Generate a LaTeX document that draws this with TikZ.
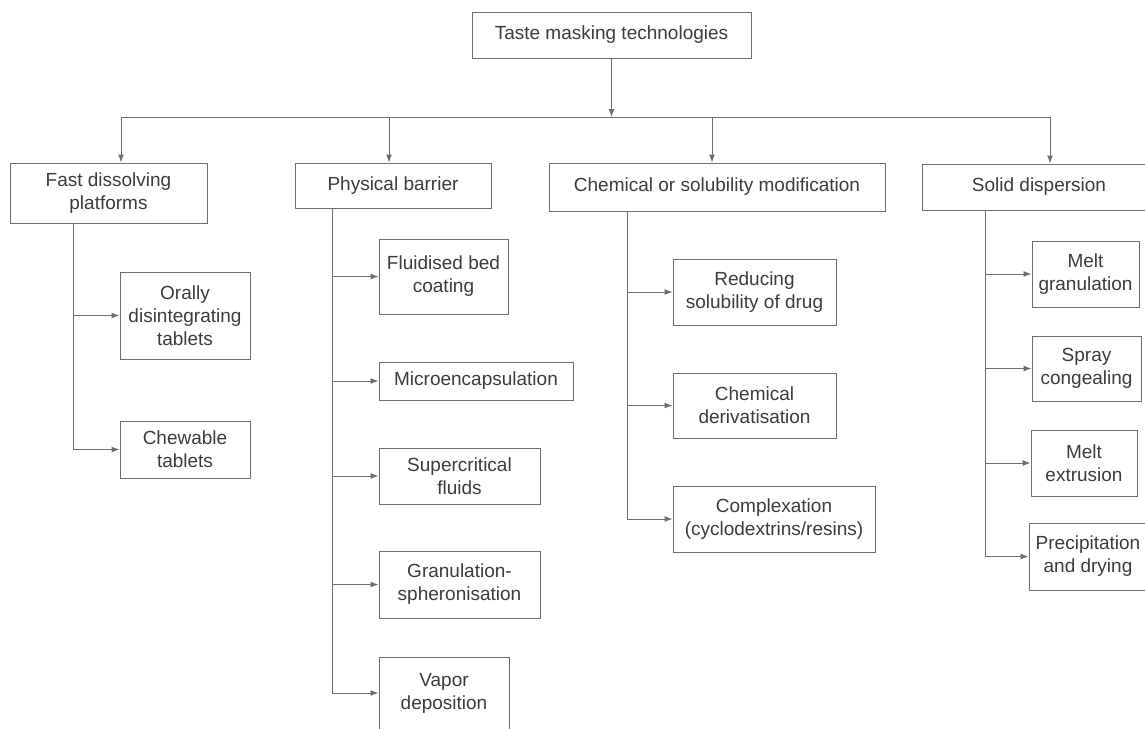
\documentclass[tikz,border=0pt]{standalone}
\usepackage{fontspec}
\setmainfont{Liberation Sans}
\usepackage{tikz}
\usetikzlibrary{arrows.meta}

\definecolor{linegray}{HTML}{6E6E6E}
\definecolor{textgray}{HTML}{3C3C3C}

\tikzset{
    box/.style={draw=linegray, line width=0.5pt, text=textgray, align=center,
        inner sep=0pt, font=\fontsize{9.5}{11.5}\selectfont},
    elbow/.style={to path={|- (\tikztotarget)}}
}

\begin{document}
\begin{tikzpicture}[x=0.5pt, y=-0.5pt, >={Latex[length=4pt,width=3pt]},
        line width=0.5pt, draw=linegray]
    \fill [white] (0,0) rectangle (1145,728);
    \useasboundingbox (0,0) rectangle (1145,728);
    \clip (0,0) rectangle (1145,728);

    % Nodes {root, four groups, their methods}
    \node [box, minimum width=139.5pt, minimum height=23pt]  (root)    at (611.5,35)  {Taste masking technologies};

    \node [box, minimum width=98.5pt, minimum height=30pt]   (fast)    at (108.5,193) {Fast dissolving\\platforms};
    \node [box, minimum width=98pt, minimum height=22.5pt]   (phys)    at (393,185.5) {Physical barrier};
    \node [box, minimum width=168pt, minimum height=24pt]    (chem)    at (717,187)   {Chemical or solubility modification};
    \node [box, minimum width=117pt, minimum height=23pt]    (solid)   at (1039,187)  {Solid dispersion};

    \node [box, minimum width=65pt, minimum height=43.5pt]   (oral)    at (185,315.5) {Orally\\disintegrating\\tablets};
    \node [box, minimum width=65pt, minimum height=28.5pt]   (chew)    at (185,449.5) {Chewable\\tablets};

    \node [box, minimum width=64.5pt, minimum height=37.5pt] (fluid)   at (443.5,276.5) {Fluidised bed\\coating};
    \node [box, minimum width=97pt, minimum height=19pt]     (micro)   at (476,381)   {Microencapsulation};
    \node [box, minimum width=80.5pt, minimum height=28pt]   (super)   at (459.5,476) {Supercritical\\fluids};
    \node [box, minimum width=80.5pt, minimum height=33.5pt] (gran)    at (459.5,584.5) {Granulation-\\spheronisation};
    \node [box, minimum width=65pt, minimum height=36pt]     (vapor)   at (444,693)   {Vapor\\deposition};

    \node [box, minimum width=81.5pt, minimum height=33pt]   (reduce)  at (754.5,292) {Reducing\\solubility of drug};
    \node [box, minimum width=81.5pt, minimum height=32.5pt] (deriv)   at (754.5,405.5) {Chemical\\derivatisation};
    \node [box, minimum width=101pt, minimum height=33pt]    (complex) at (774,519)   {Complexation\\(cyclodextrins/resins)};

    \node [box, minimum width=53.5pt, minimum height=33pt]   (meltg)   at (1085.5,274) {Melt\\granulation};
    \node [box, minimum width=54.5pt, minimum height=32.5pt] (spray)   at (1086.5,368.5) {Spray\\congealing};
    \node [box, minimum width=53pt, minimum height=33pt]     (meltx)   at (1084,463)  {Melt\\extrusion};
    \node [box, minimum width=59pt, minimum height=33.5pt]   (precip)  at (1088,556.5) {Precipitation\\and drying};

    % Bus and trunk points
    \coordinate (busL)   at (121,117);
    \coordinate (busR)   at (1050,117);
    \coordinate (busP)   at (389,117);
    \coordinate (busC)   at (712,117);
    \coordinate (fastT)  at (73,223);
    \coordinate (physT)  at (332.5,208);
    \coordinate (chemT)  at (627.5,211);
    \coordinate (solidT) at (985,210);

    % Paths
    \path [->]  (root)  edge                     (root.south |- busL);
    \draw       (busL) -- (busR);
    \path [->]  (busL)  edge                     (busL |- fast.north);
    \path [->]  (busP)  edge                     (busP |- phys.north);
    \path [->]  (busC)  edge                     (busC |- chem.north);
    \path [->]  (busR)  edge                     (busR |- solid.north);

    \path [->]  (fastT)  edge [elbow]  (oral);
    \path [->]  (fastT)  edge [elbow]  (chew);

    \path [->]  (physT)  edge [elbow]  (fluid);
    \path [->]  (physT)  edge [elbow]  (micro);
    \path [->]  (physT)  edge [elbow]  (super);
    \path [->]  (physT)  edge [elbow]  (gran);
    \path [->]  (physT)  edge [elbow]  (vapor);

    \path [->]  (chemT)  edge [elbow]  (reduce);
    \path [->]  (chemT)  edge [elbow]  (deriv);
    \path [->]  (chemT)  edge [elbow]  (complex);

    \path [->]  (solidT) edge [elbow]  (meltg);
    \path [->]  (solidT) edge [elbow]  (spray);
    \path [->]  (solidT) edge [elbow]  (meltx);
    \path [->]  (solidT) edge [elbow]  (precip);

\end{tikzpicture}
\end{document}
